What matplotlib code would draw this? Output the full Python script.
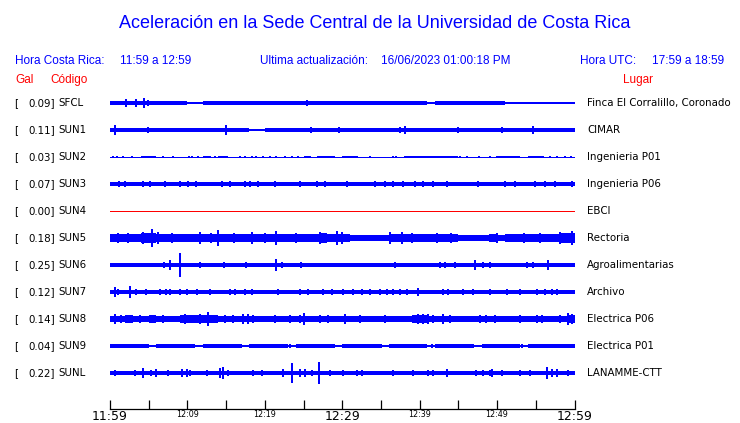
import numpy as np
import matplotlib
matplotlib.use("Agg")
import matplotlib.pyplot as plt

# ---------------- data ----------------
TITLE = "Aceleración en la Sede Central de la Universidad de Costa Rica"
CODES = ["SFCL", "SUN1", "SUN2", "SUN3", "SUN4", "SUN5", "SUN6", "SUN7", "SUN8", "SUN9", "SUNL"]
PEAKS = [0.09, 0.11, 0.03, 0.07, 0.00, 0.18, 0.25, 0.12, 0.14, 0.04, 0.22]
PLACES = ["Finca El Corralillo, Coronado", "CIMAR", "Ingenieria P01", "Ingenieria P06", "EBCI",
          "Rectoria", "Agroalimentarias", "Archivo", "Electrica P06", "Electrica P01", "LANAMME-CTT"]
TICK_MIN = [0, 5, 10, 15, 20, 25, 30, 35, 40, 45, 50, 55, 60]
TICK_LABELS = ["11:59", "", "12:09", "", "12:19", "", "12:29", "", "12:39", "", "12:49", "", "12:59"]
BIG_TICKS = ["11:59", "12:29", "12:59"]

# per-minute envelope (half amplitude, Gal), 60 minutes
SFCL_ENV = [.038, .04, .038, .038, .04, .04, .038, .036, .032, .034, .03, .012,
            .038, .036, .038, .036, .038, .038,
            .036, .032, .036, .034, .036, .036, .034, .04, .036, .036, .034, .036, .036, .036,
            .034, .036, .032, .036, .036, .034, .036, .036, .034, .012,
            .036, .038, .034, .036, .036, .034, .036, .038, .034, .03, .028,
            .012, .012, .012, .012, .012, .012, .012]
SFCL_SPK_T = [1.0, 2.1, 3.4, 4.4, 4.9, 6.0, 15.0, 25.5, 30.0, 38.5, 45.0,
              54.3, 54.9, 55.8, 56.4, 57.1, 57.9, 58.8, 59.4]
SFCL_SPK_A = [.05, .077, .088, .094, .07, .05, .05, .055, .05, .05, .05,
              .028, .028, .028, .028, .028, .028, .028, .028]

SUN1_ENV = [.04, .04, .038, .038, .04, .038, .038, .038, .037,
            .035, .033, .035, .032, .035, .033, .035, .033, .034,
            .03, .031,
            .035, .037, .038, .038, .037, .038, .038, .037, .038, .038,
            .038, .037, .038, .038, .038, .037, .038, .038, .038, .038,
            .038, .038, .037, .038, .038, .038, .038, .037, .038, .038,
            .038, .038, .038, .04, .038, .038, .038, .038, .04, .04]
SUN1_SPK_T = [0.7, 4.9, 15.0, 26.0, 29.6, 37.5, 38.1, 45.0, 50.6, 54.6, 57.0]
SUN1_SPK_A = [.11, .063, .094, .06, .06, .06, .083, .06, .063, .073, .05]

SUN2_ENV = [.01, .01, .01, .01, .025, .025, .01, .01, .01, .01,
            .01, .01, .015, .01, .015, .01, .01, .01, .01, .01,
            .01, .01, .01, .01, .01, .025, .01, .022, .022, .01,
            .025, .02, .01, .01, .01, .01, .01, .01, .025, .025,
            .022, .015, .025, .022, .02, .01, .01, .01, .01, .01,
            .015, .025, .02, .01, .025, .02, .01, .01, .01, .01]
SUN2_SPK_T = [0.4, 0.9, 1.7, 2.8, 6.9, 8.2, 10.2, 10.6, 11.4, 12.9, 13.6, 14.2, 15.1, 16.8,
              17.4, 18.3, 18.9, 19.8, 20.7, 21.5, 22.6, 23.5, 24.3, 26.9, 33.6, 36.6, 37.0,
              40.7, 41.1, 41.8, 45.2, 46.1, 47.6, 49.1, 50.0, 51.0, 55.8, 56.8, 57.7, 58.8, 59.6]
SUN2_SPK_A = [.03, .028, .03, .03, .028, .03, .03, .028, .03, .03, .028, .03, .03, .028,
              .03, .028, .03, .028, .03, .03, .028, .03, .028, .03, .028, .03, .028,
              .03, .03, .028, .03, .028, .03, .028, .03, .03, .028, .03, .03, .028, .03]

SUN3_ENV = [.04, .042, .04, .04, .05, .05, .04, .042, .05, .05,
            .042, .04, .04, .042, .05, .048, .04, .04, .04, .042,
            .04, .04, .04, .042, .05, .05, .042, .05, .048, .04,
            .04, .04, .042, .04, .04, .05, .05, .042, .05, .052,
            .05, .042, .042, .05, .048, .04, .042, .05, .048, .042,
            .05, .05, .048, .042, .05, .05, .048, .042, .042, .05]
SUN3_SPK_T = [1.1, 1.9, 4.3, 5.2, 7.1, 9.0, 10.1, 11.1, 14.5, 15.5, 17.4, 18.1, 19.1, 21.3,
              24.5, 26.7, 27.8, 30.6, 34.2, 35.5, 36.6, 37.9, 39.4, 40.4, 41.7, 43.5, 47.5,
              51.0, 52.3, 54.9, 56.2, 57.5, 59.7]
SUN3_SPK_A = [.06, .055, .06, .06, .055, .06, .07, .06, .06, .055, .055, .055, .055, .055,
              .06, .06, .06, .055, .06, .06, .06, .06, .065, .06, .055, .065, .06,
              .06, .06, .065, .06, .055, .065]

SUN4_ENV = [0.0] * 60
SUN4_SPK_T = []
SUN4_SPK_A = []

SUN5_ENV = [.085, .09, .085, .09, .095, .1, .09, .08, .085, .08,
            .08, .085, .08, .09, .09, .085, .08, .085, .09, .085,
            .085, .09, .08, .08, .085, .08, .09, .095, .09, .09,
            .08, .06, .055, .06, .055, .065, .085, .09, .08, .075,
            .08, .085, .09, .085, .08, .065, .06, .065, .07, .075,
            .07, .075, .08, .085, .085, .09, .085, .09, .095, .1]
SUN5_SPK_T = [1.0, 2.3, 4.3, 5.4, 6.2, 8.0, 11.6, 13.0, 14.0, 16.0, 18.3, 20.0, 21.5, 24.0,
              27.1, 29.3, 30.0, 36.2, 37.7, 39.0, 42.2, 44.0, 50.0, 53.5, 55.6, 58.1, 59.7]
SUN5_SPK_A = [.11, .11, .13, .18, .12, .1, .12, .11, .17, .11, .13, .1, .15, .11,
              .13, .15, .12, .12, .12, .1, .11, .1, .1, .1, .1, .12, .14]

SUN6_ENV = [.035, .035, .035, .035, .037, .037, .035, .04, .04, .04,
            .035, .035, .035, .037, .037, .037, .035, .037, .037, .035,
            .035, .035, .037, .035, .037, .035, .035, .035, .035, .035,
            .035, .035, .035, .035, .035, .035, .037, .035, .035, .035,
            .035, .04, .045, .04, .04, .035, .035, .042, .04, .038,
            .035, .035, .035, .045, .045, .035, .038, .038, .035, .035]
SUN6_SPK_T = [3.9, 5.2, 7.0, 7.8, 9.1, 11.6, 13.3, 14.2, 14.7, 15.5, 17.6, 18.5, 21.5, 22.2,
              24.7, 26.5, 29.3, 32.7, 36.8, 38.1, 39.8, 42.6, 43.3, 44.6, 47.2, 48.2, 49.1,
              51.7, 53.9, 54.7, 56.6, 57.6, 58.4]
SUN6_SPK_A = [.05, .05, .055, .1, .25, .063, .05, .05, .055, .05, .07, .05, .115, .06,
              .07, .05, .05, .05, .063, .05, .05, .07, .065, .06, .094, .06, .06,
              .05, .065, .07, .1, .05, .05]

SUN7_ENV = [.044, .044, .044, .042, .042, .042, .044, .044, .042, .044,
            .042, .042, .042, .042, .042, .042, .042, .044, .044, .042,
            .042, .042, .042, .042, .048, .048, .042, .048, .048, .042,
            .042, .042, .042, .042, .042, .042, .048, .048, .048, .042,
            .044, .042, .042, .044, .042, .042, .042, .042, .042, .042,
            .042, .042, .042, .042, .042, .048, .048, .048, .042, .042]
SUN7_SPK_T = [0.7, 1.0, 2.6, 3.4, 4.7, 6.5, 7.2, 7.8, 9.0, 9.9, 11.2, 12.9, 15.5, 16.1, 17.4,
              18.3, 21.7, 24.5, 25.6, 27.5, 28.7, 30.1, 31.4, 32.5, 33.6, 34.9, 35.8, 36.6,
              37.5, 38.4, 39.8, 43.0, 43.7, 45.6, 46.9, 49.1, 51.3, 53.0, 55.2, 56.2, 57.1, 57.8]
SUN7_SPK_A = [.094, .06, .125, .055, .055, .058, .058, .055, .058, .058, .055, .058, .055, .058, .058,
              .058, .055, .06, .06, .06, .06, .055, .055, .055, .055, .058, .055, .06,
              .06, .06, .073, .063, .06, .055, .055, .055, .055, .055, .058, .058, .058, .058]

SUN8_ENV = [.072, .072, .074, .072, .072, .074, .072, .07, .07, .074,
            .074, .074, .077, .074, .072, .072, .07, .072, .062, .058,
            .058, .06, .058, .058, .062, .072, .062, .07, .07, .067,
            .07, .064, .062, .062, .062, .067, .06, .06, .072, .074,
            .074, .072, .067, .072, .07, .06, .06, .062, .07, .062,
            .062, .062, .06, .062, .064, .07, .067, .067, .072, .077]
SUN8_SPK_T = [0.6, 1.4, 2.3, 3.9, 5.4, 6.8, 9.7, 10.3, 11.1, 11.6, 12.7, 13.6, 14.9, 15.9,
              17.2, 17.8, 18.5, 21.3, 23.3, 24.5, 25.0, 27.1, 28.2, 30.4, 32.3, 35.5, 39.1,
              39.8, 40.4, 41.1, 41.7, 43.0, 43.9, 47.8, 48.6, 49.7, 53.0, 55.2, 55.8, 58.1,
              59.2, 59.7]
SUN8_SPK_A = [.1, .08, .085, .08, .085, .08, .094, .09, .09, .094, .14, .085, .085, .085,
              .094, .094, .085, .08, .08, .09, .135, .085, .085, .1, .08, .08, .09,
              .1, .1, .095, .09, .094, .09, .085, .085, .08, .08, .085, .085, .08,
              .115, .11]

SUN9_ENV = [.032, .032, .033, .032, .032, .031, .032, .033, .032, .032,
            .032, .031, .032, .032, .033, .032, .032, .031, .032, .032,
            .032, .033, .032, .031, .032, .032, .033, .032, .032, .031,
            .032, .032, .033, .032, .032, .031, .032, .033, .032, .032,
            .032, .031, .032, .032, .033, .032, .032, .031, .032, .032,
            .032, .033, .032, .031, .032, .032, .033, .032, .032, .032]
SUN9_SPK_T = [1.0, 3.5, 6.2, 8.0, 10.5, 12.3, 14.0, 16.6, 19.0, 21.4, 23.2, 25.8, 27.6, 30.1,
              32.8, 35.0, 37.2, 39.5, 41.6, 44.3, 46.8, 49.0, 51.5, 53.2, 56.0, 58.5]
SUN9_SPK_A = [.04, .038, .04, .038, .04, .038, .04, .038, .04, .038, .04, .038, .04, .038,
              .04, .038, .04, .038, .04, .038, .04, .038, .04, .038, .04, .038]

SUNL_ENV = [.042, .042, .042, .042, .044, .042, .042, .042, .042, .048,
            .048, .042, .042, .042, .044, .044, .042, .042, .042, .042,
            .042, .042, .044, .044, .048, .048, .042, .042, .042, .042,
            .042, .042, .042, .042, .042, .042, .042, .042, .042, .042,
            .042, .042, .042, .044, .042, .042, .042, .048, .048, .048,
            .042, .042, .042, .042, .042, .042, .048, .048, .042, .042]
SUNL_SPK_T = [0.6, 3.2, 4.3, 5.3, 6.0, 7.5, 9.3, 9.9, 10.3, 12.5, 14.2, 14.6, 15.2, 18.5,
              19.6, 22.4, 23.5, 24.5, 25.2, 26.1, 27.0, 28.4, 30.1, 31.9, 32.6, 36.6, 39.1,
              41.1, 41.7, 43.5, 47.3, 48.2, 49.1, 49.3, 50.6, 53.0, 54.3, 56.4, 57.1, 57.8, 59.2]
SUNL_SPK_A = [.055, .063, .094, .055, .073, .055, .073, .073, .06, .055, .1, .135, .06, .055,
              .055, .073, .2, .073, .073, .06, .22, .055, .055, .055, .055, .063, .055,
              .055, .055, .073, .063, .063, .06, .073, .055, .055, .055, .125, .073, .073, .055]

ENVS = [SFCL_ENV, SUN1_ENV, SUN2_ENV, SUN3_ENV, SUN4_ENV, SUN5_ENV, SUN6_ENV, SUN7_ENV,
        SUN8_ENV, SUN9_ENV, SUNL_ENV]
SPK_T = [SFCL_SPK_T, SUN1_SPK_T, SUN2_SPK_T, SUN3_SPK_T, SUN4_SPK_T, SUN5_SPK_T, SUN6_SPK_T,
         SUN7_SPK_T, SUN8_SPK_T, SUN9_SPK_T, SUNL_SPK_T]
SPK_A = [SFCL_SPK_A, SUN1_SPK_A, SUN2_SPK_A, SUN3_SPK_A, SUN4_SPK_A, SUN5_SPK_A, SUN6_SPK_A,
         SUN7_SPK_A, SUN8_SPK_A, SUN9_SPK_A, SUNL_SPK_A]

# ---------------- layout ----------------
W, H = 740, 423
BLUE = "#0000ff"
RED = "#ff0000"
fig = plt.figure(figsize=(W / 100, H / 100), dpi=100)

AX_L, AX_R, AX_T, AX_B = 110, 574.5, 88, 409
PX_PER_GAL = 48.0
ROW0, ROW_DY = 103, 27

ax = fig.add_axes([AX_L / W, 1 - AX_B / H, (AX_R - AX_L) / W, (AX_B - AX_T) / H])
ax.set_xlim(0, 60)
ax.set_ylim(0, (AX_B - AX_T) / PX_PER_GAL)
for s in ["left", "right", "top"]:
    ax.spines[s].set_visible(False)
ax.spines["bottom"].set_linewidth(0.9)
ax.set_yticks([])


def row_y(i):
    return (AX_B - (ROW0 + ROW_DY * i)) / PX_PER_GAL


minutes = np.arange(60)
for i, code in enumerate(CODES):
    c = row_y(i)
    env = np.asarray(ENVS[i], dtype=float)
    if code == "SUN4":
        ax.plot([0, 60], [c, c], color=RED, lw=0.72, solid_capstyle="butt", antialiased=False)
        continue
    ax.bar(minutes, 2 * env, bottom=c - env, width=1.0, align="edge", color=BLUE,
           linewidth=0, antialiased=True)
    ax.plot([0, 60], [c, c], color=BLUE, lw=0.72, solid_capstyle="butt", antialiased=False)
    t = np.asarray(SPK_T[i], dtype=float)
    a = np.asarray(SPK_A[i], dtype=float)
    if len(t):
        ax.vlines(t, c - a, c + a, color=BLUE, lw=1.1, antialiased=False)

ax.set_xticks(TICK_MIN)
ax.set_xticklabels(TICK_LABELS)
ax.tick_params(axis="x", direction="in", length=6.5, width=0.9, pad=1.0, colors="black")
for lab in ax.get_xticklabels():
    if lab.get_text() in BIG_TICKS:
        lab.set_fontsize(9.0)
    else:
        lab.set_fontsize(5.8)
    lab.set_family("DejaVu Sans")


def ftext(x, y, s, **kw):
    fig.text(x / W, 1 - y / H, s, **kw)


ftext(375, 23, TITLE, ha="center", va="center", color=BLUE, fontsize=13, family="Liberation Sans")

hdr = dict(va="center", color=BLUE, fontsize=8.5, family="Liberation Sans")
ftext(15, 61, "Hora Costa Rica:", ha="left", **hdr)
ftext(120, 61, "11:59 a 12:59", ha="left", **hdr)
ftext(260, 61, "Ultima actualización:", ha="left", **hdr)
ftext(381, 61, "16/06/2023 01:00:18 PM", ha="left", **hdr)
ftext(580, 61, "Hora UTC:", ha="left", **hdr)
ftext(724, 61, "17:59 a 18:59", ha="right", **hdr)

sub = dict(va="center", color=RED, fontsize=8.5, family="Liberation Sans")
ftext(15, 80, "Gal", ha="left", **sub)
ftext(50, 80, "Código", ha="left", **sub)
ftext(623, 80, "Lugar", ha="left", **sub)

for i, code in enumerate(CODES):
    y = ROW0 + ROW_DY * i
    ftext(14, y, "[", ha="left", va="center", fontsize=7.4, family="DejaVu Sans", color="black")
    ftext(55, y, "%.2f]" % PEAKS[i], ha="right", va="center", fontsize=7.4,
          family="DejaVu Sans", color="black")
    ftext(58.5, y, code, ha="left", va="center", fontsize=7.4, family="DejaVu Sans", color="black")
    ftext(587, y, PLACES[i], ha="left", va="center", fontsize=7.4, family="DejaVu Sans",
          color="black")

fig.savefig("out.png", dpi=100)
